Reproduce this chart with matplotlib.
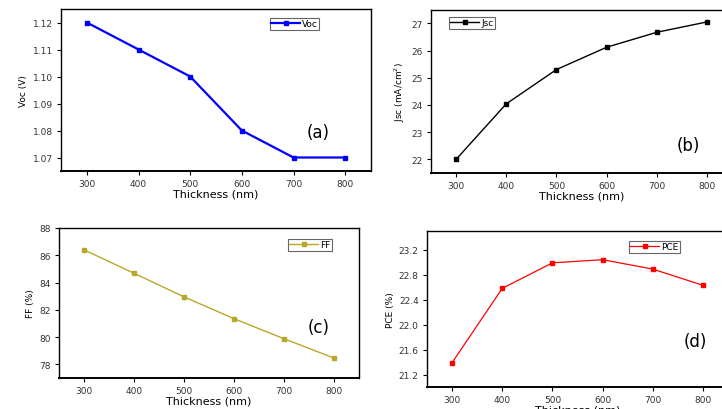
import numpy as np
import matplotlib
matplotlib.use("Agg")
import matplotlib.pyplot as plt

thickness = [300, 400, 500, 600, 700, 800]
voc = [1.12, 1.11, 1.10, 1.08, 1.07, 1.07]
jsc = [22.0, 24.04, 25.3, 26.12, 26.67, 27.05]
ff = [86.4, 84.68, 82.95, 81.35, 79.88, 78.46]
pce = [21.39, 22.58, 22.99, 23.04, 22.89, 22.63]

W, H = 722, 410


def _axes(fig, left, right, top, bottom):
    # pixel box -> figure fraction
    return fig.add_axes([left / W, 1 - bottom / H, (right - left) / W, (bottom - top) / H])


def _panel(ax, y, color, lw, label, ylabel, ylim, yticks, yfmt, leg_xy, tag, tag_xy):
    ax.plot(thickness, y, color=color, lw=lw, marker="s", ms=3.2, label=label)
    ax.set_xlim(250, 850)
    ax.set_xticks(thickness)
    ax.set_ylim(*ylim)
    ax.set_yticks(yticks)
    ax.set_yticklabels([yfmt.format(v) for v in yticks])
    ax.tick_params(direction="out", length=3, width=0.8, labelsize=6.5, labelcolor="#333333",
                   pad=3)
    for s in ax.spines.values():
        s.set_linewidth(1.0)
    ax.spines["bottom"].set_linewidth(1.4)
    ax.set_xlabel("Thickness (nm)", fontsize=8, labelpad=0)
    ax.set_ylabel(ylabel, fontsize=6.5, labelpad=3)
    leg = ax.legend(loc="upper left", bbox_to_anchor=leg_xy, fontsize=6.5, handlelength=3.2,
                    handletextpad=0.2, borderpad=0.15, borderaxespad=0, fancybox=False,
                    framealpha=1, edgecolor="#666666")
    leg.get_frame().set_linewidth(0.8)
    ax.text(tag_xy[0], tag_xy[1], tag, transform=ax.transAxes, fontsize=12,
            ha="center", va="center")


fig = plt.figure(figsize=(W / 100, H / 100), dpi=100)

ax_a = _axes(fig, 61, 371, 10, 172)
_panel(ax_a, voc, "#0000ff", 1.6, "Voc", "Voc (V)", (1.065, 1.125),
       [1.07, 1.08, 1.09, 1.10, 1.11, 1.12], "{:.2f}", (0.674, 0.944), "(a)", (0.83, 0.24))

ax_b = _axes(fig, 431, 732, 10.7, 174)
_panel(ax_b, jsc, "black", 1.0, "Jsc", "Jsc (mA/cm$^2$)", (21.5, 27.5),
       [22, 23, 24, 25, 26, 27], "{:.0f}", (0.06, 0.955), "(b)", (0.854, 0.17))

ax_c = _axes(fig, 59, 359, 229, 379)
_panel(ax_c, ff, "#b8a82a", 1.0, "FF", "FF (%)", (77, 88),
       [78, 80, 82, 84, 86, 88], "{:.0f}", (0.763, 0.927), "(c)", (0.867, 0.34))

ax_d = _axes(fig, 427, 728, 232, 388)
_panel(ax_d, pce, "#ff0000", 0.9, "PCE", "PCE (%)", (21.0, 23.5),
       [21.2, 21.6, 22.0, 22.4, 22.8, 23.2], "{:.1f}", (0.671, 0.936), "(d)", (0.89, 0.295))

fig.savefig("out.png", dpi=100)
plt.close(fig)
